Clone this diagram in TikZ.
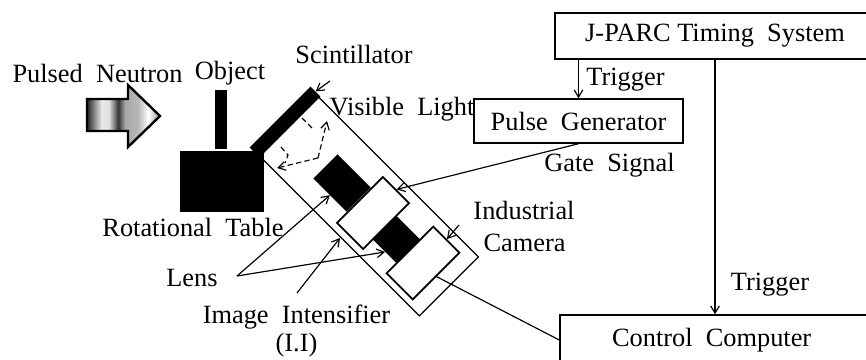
\documentclass[tikz,border=0pt]{standalone}
\usepackage{fontspec}
\setmainfont{Liberation Serif}
\usetikzlibrary{arrows.meta}
\pgfdeclarehorizontalshading{neutronflow}{100bp}{
    color(0bp)=(black!85); color(25bp)=(black!85); color(29bp)=(black!55); color(35bp)=(black!8);
    color(40bp)=(black!12); color(46.5bp)=(black!80); color(51bp)=(black!35);
    color(60bp)=(black!28); color(67bp)=(white); color(75bp)=(black!45); color(100bp)=(black!45)}
\begin{document}
\begin{tikzpicture}[
        x=0.03cm, y=-0.03cm,
        font=\fontsize{22.5}{25}\selectfont,
        >={Straight Barb[length=2.2mm, width=2.6mm]},
        unit/.style={draw, line width=1.2pt, fill=white, inner sep=0pt, align=center},
        solidpart/.style={fill=black, rotate=-45, inner sep=0pt},
        whitepart/.style={draw, line width=1.5pt, fill=white, rotate=-45, inner sep=0pt},
        signal/.style={->, line width=1pt},
        ray/.style={->, line width=1pt, dash pattern=on 1.6mm off 1mm}
    ]
        \useasboundingbox (0,0) rectangle (866,359);
        \clip (0,0) rectangle (866,359);

        \shadedraw[shading=neutronflow, line width=2pt]
            (87,99) -- (128,99) -- (128,85) -- (160,116)
            -- (128,147) -- (128,131) -- (87,131) -- cycle;

        \node[fill=black, minimum width=2.52cm, minimum height=1.83cm, inner sep=0pt] (table) at (222,181) {};
        \node[fill=black, minimum width=0.36cm, minimum height=1.77cm, inner sep=0pt] (object) at (221,119.5) {};

        \node[draw, line width=1pt, rotate=-45, minimum width=6.78cm, minimum height=2.5cm, inner sep=0pt] (housing) at (369,206.5) {};
        \node[fill=black, rotate=45, minimum width=2.58cm, minimum height=0.42cm, inner sep=0pt] (scintillator) at (285,122) {};

        \node[solidpart, minimum width=1.41cm, minimum height=1.02cm] (lensA) at (342,183) {};
        \node[solidpart, minimum width=1.25cm, minimum height=1.0cm] (lensB) at (397,240) {};
        \node[whitepart, minimum width=1.11cm, minimum height=1.95cm] (intensifier) at (373,213) {};
        \node[whitepart, minimum width=1.11cm, minimum height=1.98cm] (camera) at (423,263) {};

        \node[unit, minimum width=9.6cm, minimum height=1.38cm] (timing) at (715,36)
            {J-PARC Timing~~System};
        \node[unit, minimum width=6.27cm, minimum height=1.32cm] (pulse) at (578.5,121)
            {Pulse~~Generator};
        \node[unit, minimum width=9.3cm, minimum height=1.5cm] (computer) at (715,340)
            {\hspace*{-2mm}Control~~Computer};

        \node (neutronLabel) at (97.5,73) {Pulsed~~Neutron};
        \node (objectLabel) at (230,73) {Object};
        \node (scintillatorLabel) at (354,54) {Scintillator};
        \node (lightLabel) at (402,109) {Visible~~Light};
        \node (tableLabel) at (193,227) {Rotational~~Table};
        \node (lensLabel) at (192,278) {Lens};
        \node (intensifierLabel) at (296.5,317) {Image~~Intensifier};
        \node (iiLabel) at (296.5,345) {(I.I)};
        \node (cameraLabel) at (524,210) {Industrial};
        \node (cameraLabelB) at (524.5,243) {Camera};
        \node (triggerLabelA) at (625.5,80) {Trigger};
        \node (gateLabel) at (609.5,165) {Gate~~Signal};
        \node (triggerLabelB) at (770,285) {Trigger};

        \coordinate (scintillatorTail) at (330,81);
        \coordinate (cameraTail) at (459,225);
        \coordinate (lensTail) at (237,276);
        \coordinate (intensifierTail) at (297,293);
        \coordinate (intensifierTip) at (340,238);
        \coordinate (rayTurn) at (318,158);
        \coordinate (rayLeft) at (277,168);
        \coordinate (rayRight) at (327,121);

        \draw[signal] (timing.south -| pulse.south) -- (pulse.north);
        \draw[signal] (timing.south) -- (computer.north);
        \draw[signal] (pulse.south) -- (intensifier.north);
        \draw[signal] (scintillatorTail) -- (scintillator.east);
        \draw[signal] (cameraTail) -- (camera.north);
        \draw[signal] (lensTail) -- (lensA.south);
        \draw[signal] (lensTail) -- (lensB.south);
        \draw[signal] (intensifierTail) -- (intensifierTip);
        \draw[line width=1pt] (camera.east) -- (computer.west);

        \draw[ray] (rayTurn) -- (rayLeft);
        \draw[ray] (rayTurn) -- (rayRight);
        \draw[line width=1pt, dash pattern=on 1.6mm off 1mm] (302,118) -- (314,130);
        \draw[line width=1pt, dash pattern=on 1.6mm off 1mm] (281,147) -- (288,155) -- (285,163);
    \end{tikzpicture}
\end{document}
